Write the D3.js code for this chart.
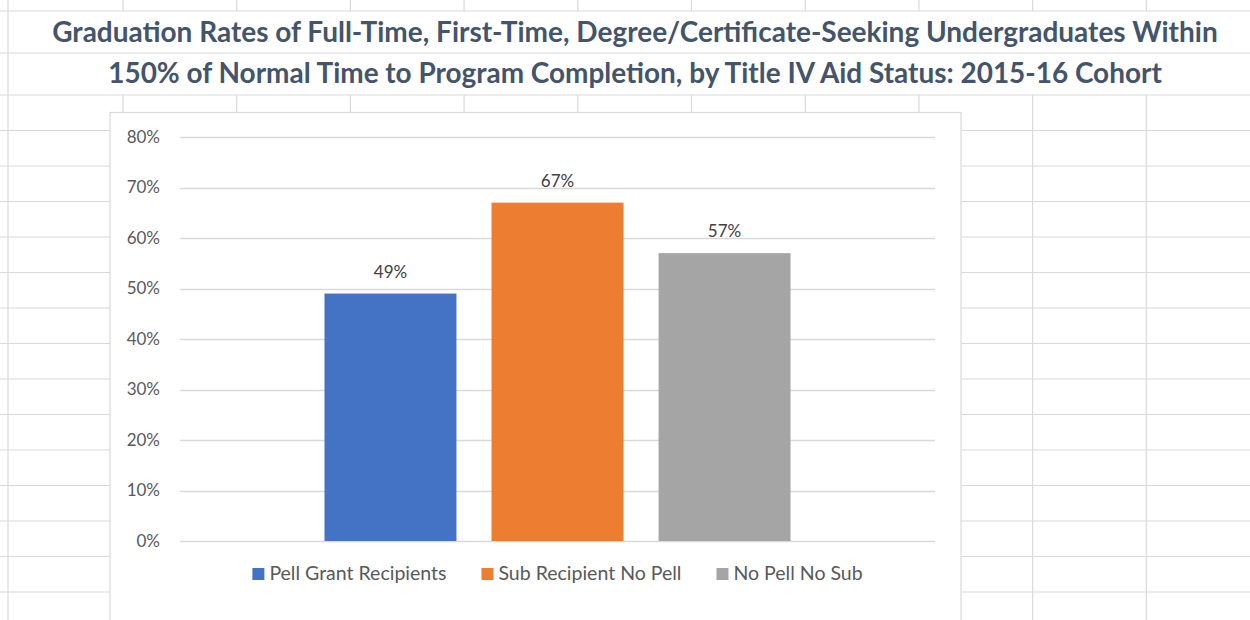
<!DOCTYPE html>
<html>
<head>
<meta charset="utf-8">
<script src="https://cdn.jsdelivr.net/npm/d3@7"></script>
<style>
  body { margin: 0; background: #fff; }
  svg { display: block; }
  text { font-family: Lato, "Open Sans", sans-serif; }
</style>
</head>
<body>
<div id="wrapper"></div>
<script>
// data
const titleLines = [
  "Graduation Rates of Full-Time, First-Time, Degree/Certificate-Seeking Undergraduates Within",
  "150% of Normal Time to Program Completion, by Title IV Aid Status: 2015-16 Cohort",
];
const seriesNames = ["Pell Grant Recipients", "Sub Recipient No Pell", "No Pell No Sub"];
const seriesValues = [0.49, 0.67, 0.57];
const seriesColors = ["#4472C4", "#ED7D31", "#A5A5A5"];
const yTicks = [0, 0.1, 0.2, 0.3, 0.4, 0.5, 0.6, 0.7, 0.8];

function drawChart() {
  const width = 1250;
  const height = 620;

  const svg = d3
    .select("#wrapper")
    .append("svg")
    .attr("width", width)
    .attr("height", height);

  // spreadsheet background grid
  const sheet = svg.append("g").attr("stroke", "#dadada").attr("stroke-width", 1.2);
  const rowLines = [11, 53, 95].concat(d3.range(0, 14).map((i) => 130.5 + i * 35.5));
  rowLines.forEach((y) => {
    sheet.append("line").attr("x1", 0).attr("x2", width).attr("y1", y).attr("y2", y);
  });
  const colLines = d3.range(0, 10).map((i) => 123 + i * 113.7);
  sheet.append("line").attr("x1", 8).attr("x2", 8).attr("y1", 0).attr("y2", height);
  colLines.forEach((x) => {
    sheet.append("line").attr("x1", x).attr("x2", x).attr("y1", 0).attr("y2", 11);
    sheet.append("line").attr("x1", x).attr("x2", x).attr("y1", 95).attr("y2", height);
  });

  // title (merged cells)
  const titleSpecs = [
    { y: 42, w: 1166 },
    { y: 83, w: 1054 },
  ];
  titleLines.forEach((t, i) => {
    const txt = svg
      .append("text")
      .attr("x", 635)
      .attr("y", titleSpecs[i].y)
      .attr("text-anchor", "middle")
      .attr("fill", "#44546A")
      .style("font-weight", "700")
      .style("font-size", "24px")
      .text(t);
    const w = txt.node().getComputedTextLength();
    txt.style("font-size", (24 * titleSpecs[i].w) / w + "px");
  });

  // chart box
  svg
    .append("rect")
    .attr("x", 110)
    .attr("y", 112.5)
    .attr("width", 851)
    .attr("height", 540)
    .attr("fill", "#fff")
    .attr("stroke", "#d9d9d9")
    .attr("stroke-width", 1.2);

  const plot = { left: 180, right: 935, top: 137, bottom: 541 };

  const yScale = d3.scaleLinear().domain([0, 0.8]).range([plot.bottom, plot.top]);
  const xScale = d3
    .scaleBand()
    .domain(seriesNames)
    .range([plot.left, plot.right])
    .paddingInner(0.21)
    .paddingOuter(0.865);

  // gridlines
  const grid = svg.append("g");
  grid
    .selectAll("line")
    .data(yTicks)
    .join("line")
    .attr("x1", plot.left)
    .attr("x2", plot.right)
    .attr("y1", (d) => Math.round(yScale(d)) + 0.5)
    .attr("y2", (d) => Math.round(yScale(d)) + 0.5)
    .attr("stroke", "#d9d9d9")
    .attr("stroke-width", 1.3);

  // y axis labels
  const yAxis = d3
    .axisLeft(yScale)
    .tickValues(yTicks)
    .tickFormat(d3.format(".0%"))
    .tickSize(0)
    .tickPadding(0);
  const yAxisG = svg
    .append("g")
    .attr("transform", "translate(160,0)")
    .call(yAxis);
  yAxisG.select(".domain").remove();
  yAxisG
    .selectAll("text")
    .attr("fill", "#595959")
    .style("font-size", "17px")
    .style("font-family", "Lato, sans-serif");

  // bars
  svg
    .append("g")
    .selectAll("rect")
    .data(seriesNames)
    .join("rect")
    .attr("x", (d) => xScale(d))
    .attr("width", xScale.bandwidth())
    .attr("y", (d, i) => yScale(seriesValues[i]))
    .attr("height", (d, i) => yScale(0) - yScale(seriesValues[i]))
    .attr("fill", (d, i) => seriesColors[i]);

  // data labels
  svg
    .append("g")
    .selectAll("text")
    .data(seriesNames)
    .join("text")
    .attr("x", (d) => xScale(d) + xScale.bandwidth() / 2)
    .attr("y", (d, i) => yScale(seriesValues[i]) - 16)
    .attr("text-anchor", "middle")
    .attr("fill", "#404040")
    .style("font-size", "17px")
    .text((d, i) => d3.format(".0%")(seriesValues[i]));

  // legend
  const legend = svg.append("g");
  const items = seriesNames.map((name, i) => {
    const g = legend.append("g");
    g.append("rect")
      .attr("width", 12)
      .attr("height", 12)
      .attr("y", -12)
      .attr("fill", seriesColors[i]);
    const t = g
      .append("text")
      .attr("x", 17)
      .attr("y", 0)
      .attr("fill", "#595959")
      .style("font-size", "19.5px")
      .text(name);
    return { g, w: 17 + t.node().getComputedTextLength() };
  });
  const gap = 35;
  const total = d3.sum(items, (d) => d.w) + gap * (items.length - 1);
  let cx = (plot.left + plot.right) / 2 - total / 2;
  items.forEach((it) => {
    it.g.attr("transform", `translate(${cx},580)`);
    cx += it.w + gap;
  });
}
drawChart();
</script>
</body>
</html>
